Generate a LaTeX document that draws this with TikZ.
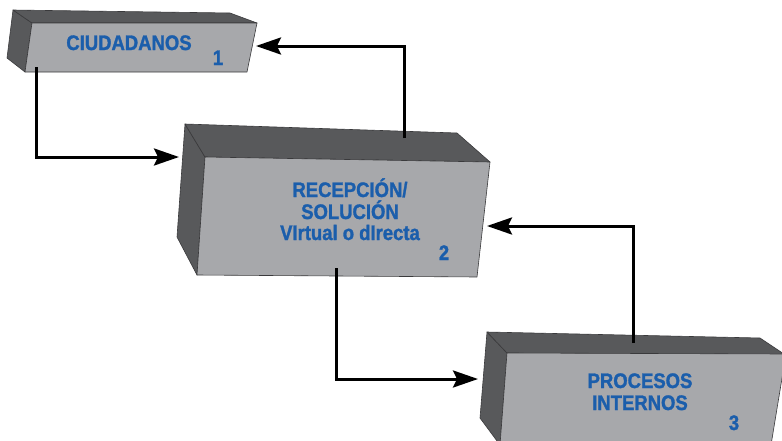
\documentclass[tikz,border=0pt]{standalone}
\usepackage{fontspec}
\newfontfamily\boxfont{Liberation Sans}[FakeStretch=0.88, BoldFeatures={FakeBold=1.4}]
\usetikzlibrary{arrows.meta}
\definecolor{facefront}{HTML}{A7A8AB}
\definecolor{faceside}{HTML}{58595B}
\definecolor{edgecol}{HTML}{3A3A3C}
\definecolor{labelblue}{HTML}{1B5EAB}
\tikzset{
  front/.style={fill=facefront, draw=edgecol, line width=0.6pt, line join=round},
  side/.style={fill=faceside, draw=edgecol, line width=0.6pt, line join=round},
  label/.style={font=\boxfont\bfseries\fontsize{21}{23}\selectfont, text=labelblue, anchor=base, inner sep=0pt},
  flow/.style={line width=3pt, -{Stealth[length=25pt,width=17pt,inset=4pt]}},
}
\begin{document}
\begin{tikzpicture}[x=1pt, y=-1pt]
\useasboundingbox (0,0) rectangle (782,440);
\begin{scope}
\clip (0,0) rectangle (782,440);
% box 1: citizens
\filldraw[side] (13,10) -- (32,23) -- (25,72) -- (7,58) -- cycle;
\filldraw[side] (13,10) -- (230,13) -- (257,23) -- (32,23) -- cycle;
\filldraw[front] (32,23) -- (257,23) -- (247,72) -- (25,72) -- cycle;
% box 2: reception / solution
\filldraw[side] (185,124) -- (205,157) -- (197,275) -- (177,237) -- cycle;
\filldraw[side] (185,124) -- (457,133) -- (490,162) -- (205,157) -- cycle;
\filldraw[front] (205,157) -- (490,162) -- (477,277) -- (197,275) -- cycle;
% box 3: internal processes
\filldraw[side] (487,332) -- (507,353) -- (500,445) -- (480,418) -- cycle;
\filldraw[side] (487,332) -- (760,338) -- (790,358) -- (507,353) -- cycle;
\filldraw[front] (507,353) -- (786,354) -- (771,445) -- (500,445) -- cycle;
\end{scope}

% texts
\node[label] (t1) at (129,50) {CIUDADANOS};
\node[label] (n1) at (218,65) {1};
\node[label] (t2a) at (350,197) {RECEPCIÓN/};
\node[label] (t2b) at (350,219) {SOLUCIÓN};
\node[label] (t2c) at (350,240) {VIrtual o dIrecta};
\node[label] (n2) at (444,260) {2};
\node[label] (t3a) at (640,388) {PROCESOS};
\node[label] (t3b) at (640,410) {INTERNOS};
\node[label] (n3) at (734,430) {3};

% connection points on the boxes
\coordinate (b1bot) at (36,67);
\coordinate (b1right) at (256,46);
\coordinate (b2left) at (179,157);
\coordinate (b2top) at (404,138);
\coordinate (b2bot) at (336,268);
\coordinate (b2right) at (487,226);
\coordinate (b3left) at (478,379);
\coordinate (b3top) at (633,343);

% flows
\draw[flow] (b1bot) |- (b2left);
\draw[flow] (b2top) |- (b1right);
\draw[flow] (b2bot) |- (b3left);
\draw[flow] (b3top) |- (b2right);
\end{tikzpicture}
\end{document}
